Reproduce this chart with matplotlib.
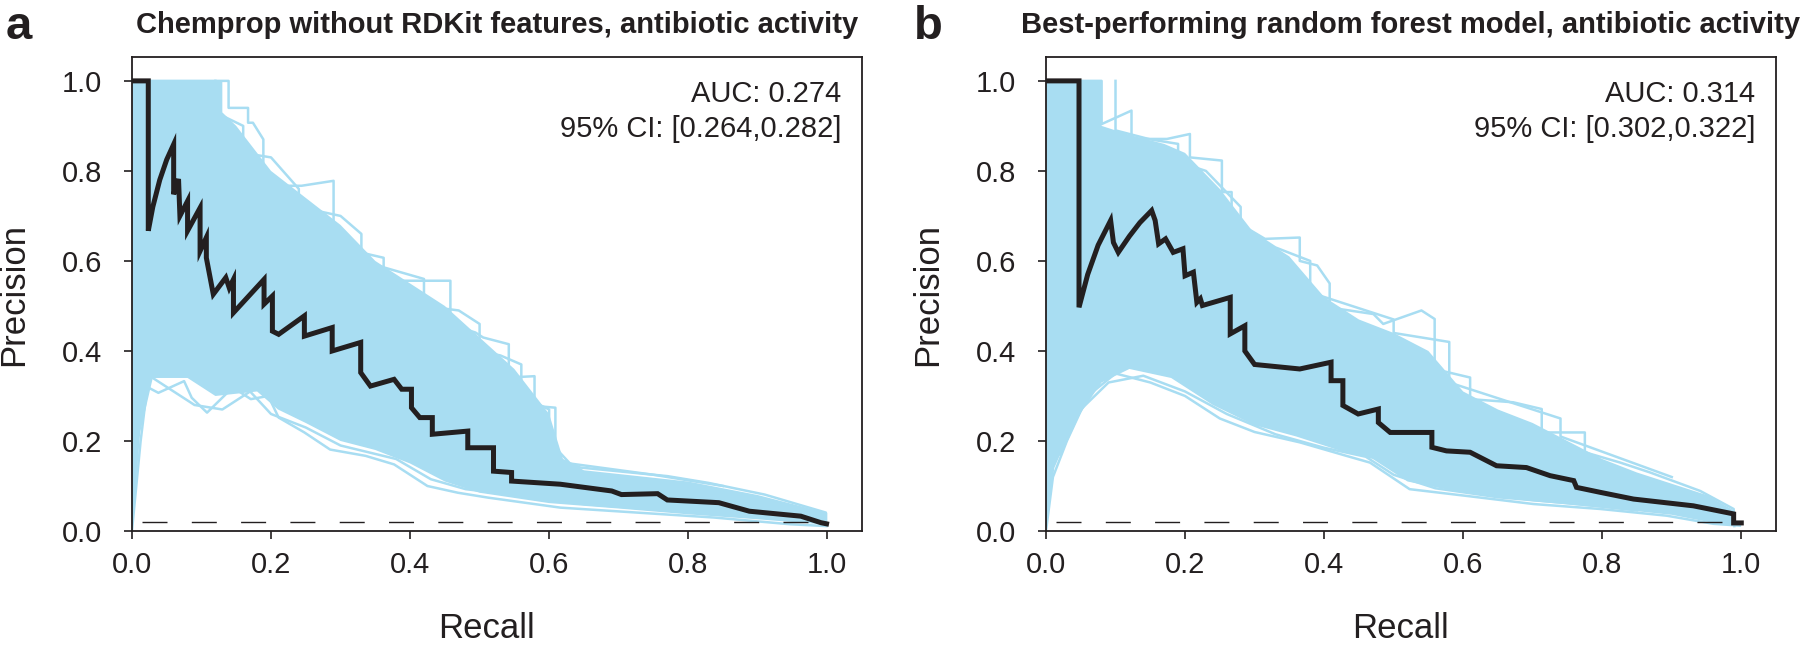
import matplotlib
matplotlib.use("Agg")
import matplotlib.pyplot as plt

plt.rcParams['font.family'] = ['Liberation Sans', 'DejaVu Sans']

BLUE = '#a8ddf2'
BLACK = '#231f20'

# ---- panel a : Chemprop without RDKit features ----
a_mean_rec = [0, 0.0235, 0.0235, 0.03, 0.04, 0.05, 0.06, 0.06, 0.067, 0.069, 0.080, 0.080,
              0.098, 0.098, 0.107, 0.107, 0.117, 0.135, 0.14, 0.146, 0.146, 0.190, 0.190,
              0.202, 0.202, 0.211, 0.248, 0.248, 0.288, 0.288, 0.329, 0.329, 0.343, 0.377,
              0.388, 0.402, 0.402, 0.414, 0.432, 0.432, 0.483, 0.483, 0.520, 0.520, 0.546,
              0.546, 0.616, 0.690, 0.704, 0.756, 0.770, 0.844, 0.888, 0.962, 0.991, 0.999]
a_mean_prec = [1.0, 1.0, 0.667, 0.72, 0.78, 0.825, 0.859, 0.748, 0.782, 0.70, 0.733, 0.667,
               0.718, 0.622, 0.652, 0.607, 0.526, 0.563, 0.54, 0.559, 0.485, 0.559, 0.504,
               0.522, 0.444, 0.437, 0.478, 0.433, 0.452, 0.40, 0.419, 0.352, 0.322, 0.337,
               0.315, 0.315, 0.274, 0.252, 0.252, 0.215, 0.222, 0.185, 0.185, 0.133, 0.130,
               0.111, 0.104, 0.089, 0.081, 0.083, 0.069, 0.063, 0.044, 0.033, 0.0185, 0.016]

# outermost bootstrap curves
a_hi_rec = [0, 0.139, 0.139, 0.167, 0.167, 0.174, 0.189, 0.189, 0.203, 0.244, 0.29, 0.29,
            0.309, 0.362, 0.362, 0.393, 0.458, 0.458, 0.494, 0.505, 0.542, 0.542, 0.579,
            0.579, 0.609, 0.609, 0.645, 0.770, 0.829, 0.910, 0.998, 0.998]
a_hi_prec = [1.0, 1.0, 0.94, 0.94, 0.907, 0.907, 0.870, 0.80, 0.767, 0.767, 0.778, 0.644,
             0.626, 0.607, 0.555, 0.556, 0.556, 0.459, 0.441, 0.43, 0.415, 0.341, 0.344,
             0.278, 0.274, 0.163, 0.141, 0.122, 0.107, 0.081, 0.041, 0.015]
a_lo_rec = [0, 0.0125, 0.022, 0.038, 0.075, 0.086, 0.108, 0.145, 0.171, 0.196, 0.211, 0.248,
            0.285, 0.336, 0.377, 0.395, 0.425, 0.469, 0.513, 0.616, 0.726, 0.837, 0.947, 0.999]
a_lo_prec = [0, 0.2, 0.32, 0.307, 0.333, 0.296, 0.263, 0.319, 0.293, 0.30, 0.252, 0.219,
             0.181, 0.167, 0.148, 0.130, 0.100, 0.085, 0.074, 0.052, 0.041, 0.030, 0.015, 0.011]
# a second visible curve on each side
a_hi2_rec = [0.12, 0.12, 0.16, 0.16, 0.2, 0.24, 0.24, 0.3, 0.33, 0.33, 0.42, 0.42, 0.47,
             0.5, 0.5, 0.53, 0.56, 0.56, 0.6, 0.6, 0.63, 0.75, 0.85]
a_hi2_prec = [1.0, 0.93, 0.90, 0.84, 0.83, 0.76, 0.72, 0.70, 0.66, 0.60, 0.56, 0.50, 0.49,
              0.46, 0.40, 0.39, 0.37, 0.30, 0.27, 0.20, 0.15, 0.125, 0.10]
a_lo2_rec = [0.03, 0.06, 0.09, 0.13, 0.17, 0.2, 0.25, 0.3, 0.34, 0.38, 0.43, 0.48, 0.55,
             0.65, 0.8]
a_lo2_prec = [0.34, 0.31, 0.28, 0.27, 0.31, 0.26, 0.23, 0.19, 0.175, 0.16, 0.115, 0.093,
              0.08, 0.06, 0.042]

# dense core of the bootstrap band
a_core_hi_rec = [0, 0.13, 0.13, 0.15, 0.2, 0.25, 0.3, 0.35, 0.4, 0.45, 0.5, 0.55, 0.6,
                 0.62, 0.65, 0.8, 0.9, 1.0]
a_core_hi_prec = [1.0, 1.0, 0.93, 0.90, 0.80, 0.74, 0.68, 0.60, 0.55, 0.50, 0.43, 0.36,
                  0.26, 0.16, 0.135, 0.11, 0.08, 0.04]
a_core_lo_rec = [0, 0.012, 0.03, 0.08, 0.12, 0.18, 0.21, 0.25, 0.3, 0.35, 0.4, 0.45, 0.5,
                 0.6, 0.7, 0.8, 0.9, 1.0]
a_core_lo_prec = [0, 0.22, 0.34, 0.34, 0.30, 0.31, 0.27, 0.24, 0.2, 0.18, 0.15, 0.11, 0.085,
                  0.062, 0.05, 0.037, 0.026, 0.014]

# ---- panel b : best random forest ----
b_mean_rec = [0, 0.0475, 0.0475, 0.06, 0.075, 0.093, 0.097, 0.104, 0.12, 0.135, 0.152, 0.157,
              0.162, 0.172, 0.183, 0.197, 0.200, 0.212, 0.217, 0.222, 0.225, 0.265, 0.265,
              0.286, 0.286, 0.30, 0.365, 0.41, 0.41, 0.427, 0.427, 0.449, 0.478, 0.478,
              0.495, 0.555, 0.555, 0.576, 0.610, 0.648, 0.691, 0.725, 0.759, 0.763, 0.797,
              0.845, 0.931, 0.989, 0.989, 1.0]
b_mean_prec = [1.0, 1.0, 0.497, 0.57, 0.635, 0.690, 0.641, 0.619, 0.655, 0.685, 0.712, 0.69,
               0.638, 0.649, 0.619, 0.627, 0.567, 0.575, 0.508, 0.516, 0.501, 0.519, 0.438,
               0.456, 0.40, 0.37, 0.36, 0.375, 0.334, 0.334, 0.279, 0.260, 0.271, 0.241,
               0.219, 0.219, 0.186, 0.178, 0.175, 0.145, 0.141, 0.123, 0.112, 0.097, 0.086,
               0.071, 0.056, 0.038, 0.018, 0.018]

b_hi_rec = [0, 0.080, 0.080, 0.123, 0.123, 0.174, 0.207, 0.207, 0.253, 0.253, 0.267, 0.267,
            0.315, 0.365, 0.365, 0.39, 0.408, 0.408, 0.423, 0.471, 0.485, 0.540, 0.559, 0.559,
            0.569, 0.610, 0.610, 0.672, 0.713, 0.713, 0.775, 0.775, 0.826, 0.869, 0.941,
            0.989, 0.99]
b_hi_prec = [1.0, 1.0, 0.904, 0.934, 0.871, 0.871, 0.882, 0.830, 0.823, 0.753, 0.753, 0.693,
             0.649, 0.652, 0.60, 0.59, 0.55, 0.50, 0.493, 0.482, 0.46, 0.49, 0.471, 0.360,
             0.356, 0.341, 0.293, 0.286, 0.271, 0.219, 0.219, 0.175, 0.152, 0.130, 0.089,
             0.049, 0.011]
b_lo_rec = [0, 0.01, 0.03, 0.06, 0.1, 0.15, 0.2, 0.25, 0.3, 0.365, 0.432, 0.466, 0.523,
            0.605, 0.701, 0.797, 0.893, 0.960, 0.998]
b_lo_prec = [0, 0.12, 0.2, 0.3, 0.35, 0.33, 0.3, 0.25, 0.22, 0.197, 0.167, 0.152, 0.093,
             0.078, 0.060, 0.049, 0.034, 0.016, 0.012]
b_hi2_rec = [0.1, 0.1, 0.15, 0.19, 0.19, 0.23, 0.28, 0.28, 0.33, 0.38, 0.38, 0.44, 0.5,
             0.5, 0.58, 0.58, 0.66, 0.74, 0.74, 0.82, 0.9]
b_hi2_prec = [1.0, 0.89, 0.87, 0.86, 0.82, 0.80, 0.72, 0.68, 0.63, 0.60, 0.53, 0.50, 0.47,
              0.44, 0.42, 0.33, 0.29, 0.25, 0.21, 0.165, 0.12]
b_lo2_rec = [0.02, 0.05, 0.09, 0.14, 0.2, 0.26, 0.33, 0.4, 0.46, 0.5, 0.56, 0.65, 0.75, 0.85]
b_lo2_prec = [0.17, 0.27, 0.33, 0.345, 0.31, 0.26, 0.215, 0.185, 0.165, 0.125, 0.095,
              0.075, 0.062, 0.046]

b_core_hi_rec = [0, 0.08, 0.08, 0.12, 0.17, 0.2, 0.25, 0.3, 0.35, 0.4, 0.45, 0.5, 0.55, 0.6,
                 0.65, 0.7, 0.75, 0.8, 0.85, 0.9, 0.95, 0.99]
b_core_hi_prec = [1.0, 1.0, 0.90, 0.88, 0.86, 0.84, 0.76, 0.66, 0.61, 0.52, 0.47, 0.44, 0.40,
                  0.31, 0.27, 0.24, 0.20, 0.16, 0.13, 0.105, 0.08, 0.045]
b_core_lo_rec = [0, 0.012, 0.04, 0.08, 0.12, 0.18, 0.24, 0.3, 0.36, 0.42, 0.47, 0.52, 0.6,
                 0.7, 0.8, 0.9, 0.96, 0.99]
b_core_lo_prec = [0, 0.14, 0.24, 0.33, 0.36, 0.34, 0.28, 0.235, 0.21, 0.18, 0.16, 0.11, 0.085,
                  0.066, 0.052, 0.036, 0.018, 0.014]

baseline = 0.02
titles = ["Chemprop without RDKit features, antibiotic activity",
          "Best-performing random forest model, antibiotic activity"]
auc_lines = [["AUC: 0.274", "95% CI: [0.264,0.282]"],
             ["AUC: 0.314", "95% CI: [0.302,0.322]"]]
ticks = [0, 0.2, 0.4, 0.6, 0.8, 1.0]
tick_labels = ["0.0", "0.2", "0.4", "0.6", "0.8", "1.0"]

fig = plt.figure(figsize=(18, 6.45), dpi=100)
ax_a = fig.add_axes([0.0733, 0.1767, 0.4056, 0.7349])
ax_b = fig.add_axes([0.5811, 0.1767, 0.4056, 0.7349])

panels = [
    (ax_a, a_mean_rec, a_mean_prec,
     [(a_hi_rec, a_hi_prec), (a_lo_rec, a_lo_prec), (a_hi2_rec, a_hi2_prec), (a_lo2_rec, a_lo2_prec)],
     a_core_hi_rec, a_core_hi_prec, a_core_lo_rec, a_core_lo_prec),
    (ax_b, b_mean_rec, b_mean_prec,
     [(b_hi_rec, b_hi_prec), (b_lo_rec, b_lo_prec), (b_hi2_rec, b_hi2_prec), (b_lo2_rec, b_lo2_prec)],
     b_core_hi_rec, b_core_hi_prec, b_core_lo_rec, b_core_lo_prec),
]

for i, (ax, mr, mp, edges, chr_, chp, clr, clp) in enumerate(panels):
    # dense bootstrap band
    ax.fill(chr_ + clr[::-1], chp + clp[::-1], color=BLUE, lw=0)
    for er, ep in edges:
        ax.plot(er, ep, color=BLUE, lw=1.8)
    ax.plot([0.0145, 1.0], [baseline, baseline], color=BLACK, lw=1.0, dashes=(18, 17.5))
    ax.plot(mr, mp, color=BLACK, lw=3.6, solid_joinstyle='miter')

    ax.set_xlim(0, 1.05)
    ax.set_ylim(0, 1.053)
    ax.set_xticks(ticks)
    ax.set_yticks(ticks)
    ax.set_xticklabels(tick_labels)
    ax.set_yticklabels(tick_labels)
    ax.tick_params(direction='out', length=5.5, width=1.2, labelsize=21, colors=BLACK)
    ax.tick_params(axis='x', pad=9)
    ax.tick_params(axis='y', pad=16)
    for s in ax.spines.values():
        s.set_linewidth(1.3)
        s.set_color(BLACK)
    ax.set_xlabel("Recall", fontsize=25, color=BLACK)
    ax.set_ylabel("Precision", fontsize=25, color=BLACK)
    ax.xaxis.set_label_coords(0.485, -0.171)
    ax.yaxis.set_label_coords(-0.140, 0.5)
    ax.text(1.02, 0.971, auc_lines[i][0], ha='right', va='center', fontsize=21, color=BLACK)
    ax.text(1.02, 0.893, auc_lines[i][1], ha='right', va='center', fontsize=21, color=BLACK)
    ax.set_title(titles[i], fontsize=21, fontweight='bold', color=BLACK, pad=17)

fig.text(0.003, 0.958, "a", fontsize=34, fontweight='bold', va='center', color=BLACK)
fig.text(0.508, 0.958, "b", fontsize=34, fontweight='bold', va='center', color=BLACK)

fig.savefig("out.png", dpi=100)
